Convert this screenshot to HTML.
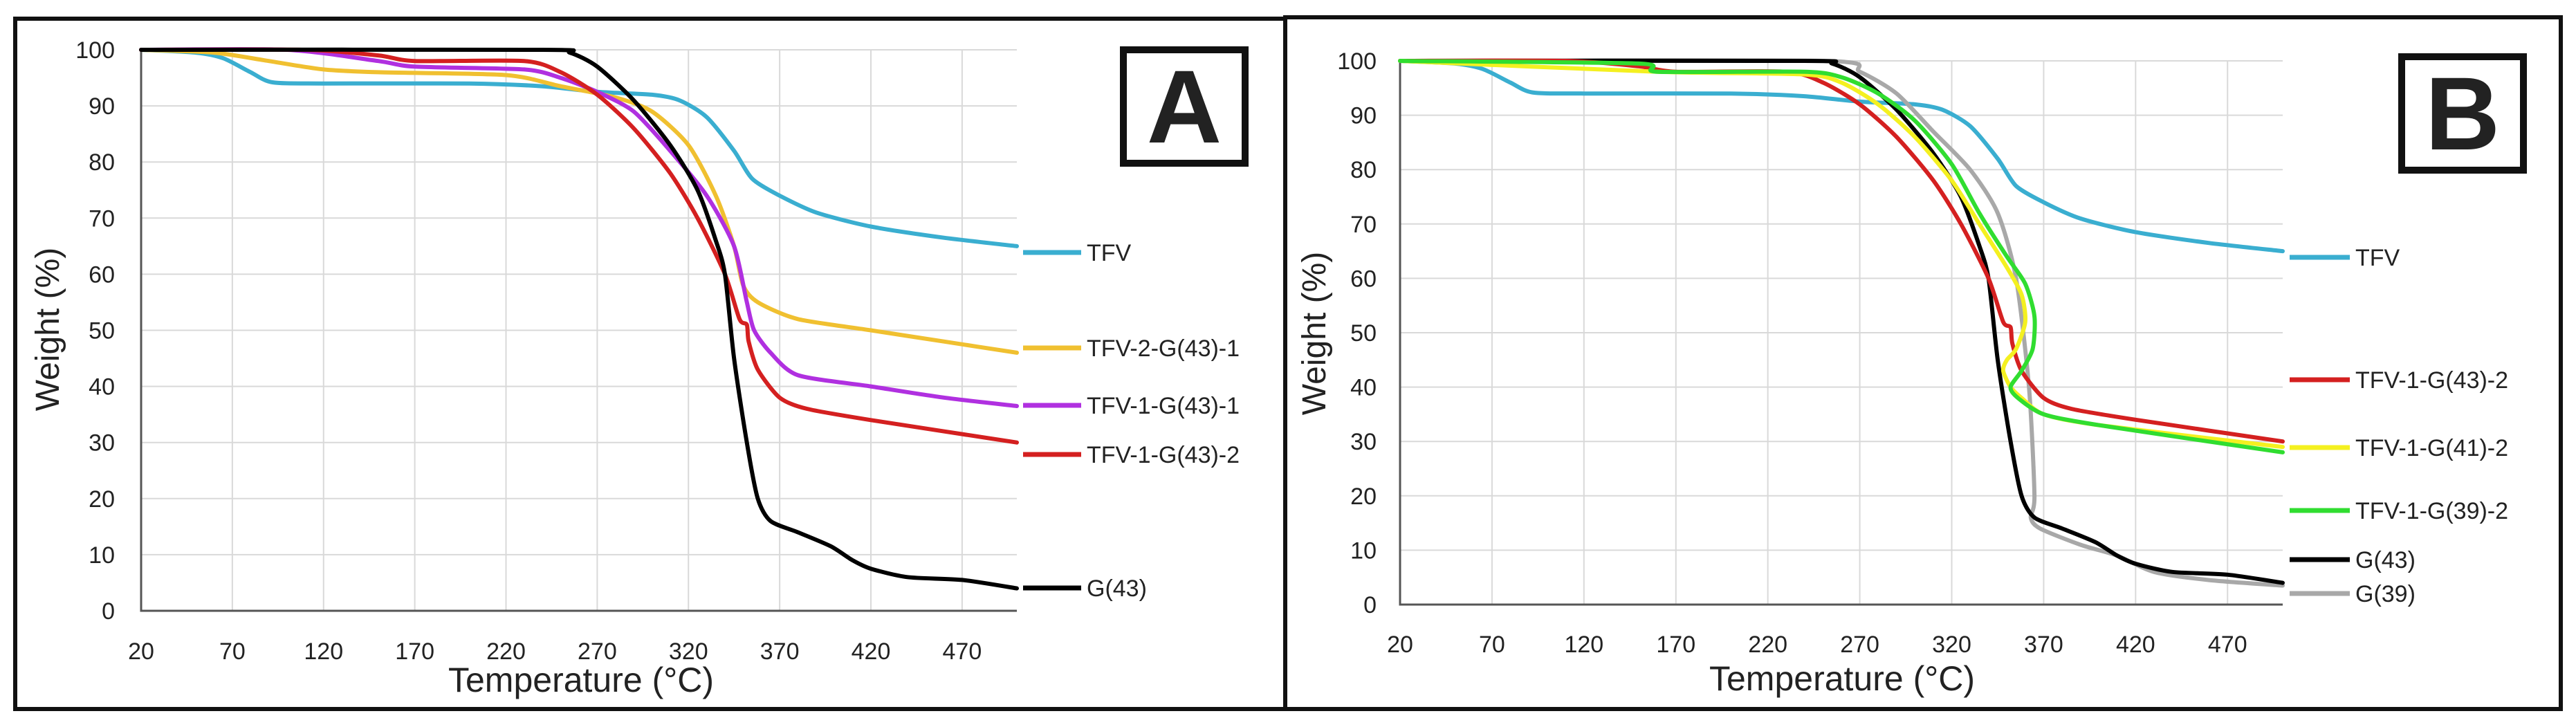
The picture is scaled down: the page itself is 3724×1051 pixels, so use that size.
<!DOCTYPE html>
<html><head><meta charset="utf-8"><style>
html,body{margin:0;padding:0;background:#fff}
svg{display:block}
text{font-family:"Liberation Sans Narrow","Liberation Sans",sans-serif;fill:#222}
</style></head><body>
<svg id="chart" width="3724" height="1051" viewBox="0 0 3724 1051" xmlns="http://www.w3.org/2000/svg">
<rect x="0" y="0" width="3724" height="1051" fill="#fff"/>
<rect x="22" y="27" width="1836" height="998" fill="none" stroke="#111" stroke-width="6"/>
<rect x="1858" y="25" width="1844" height="1000" fill="none" stroke="#111" stroke-width="6"/>
<g id="pa"></g>
<g id="pb"></g>
</svg>
<script>
const xTicks=[20,70,120,170,220,270,320,370,420,470];
const yTicks=[0,10,20,30,40,50,60,70,80,90,100];
const tfvT=[20,50,65,80,92,120,200,240,270,300,315,330,345,355,370,390,420,460,500];
const tfvW=[100,99.5,98.5,96,94.2,94,94,93.5,92.5,92,91,88,82,77,74,71,68.5,66.5,65];
const t2g431T=[20,60,90,120,150,220,250,280,300,320,335,345,350,358,380,420,460,500];
const t2g431W=[100,99.5,98,96.5,96,95.5,93.5,91.5,89,83,74,65,58,55,52,50,48,46];
const t1g431T=[20,100,150,170,230,250,270,290,310,330,345,352,356,365,380,420,460,500];
const t1g431W=[100,100,98,97,96.5,95,92.5,89,82,74,65,55,50,46,42,40,38,36.5];
const t1g432T=[20,110,150,170,230,250,270,290,310,325,340,348,352,353,358,370,385,420,500];
const t1g432W=[100,100,99,98,98,96,92,86,78,70,60,52,51,48,43,38,36,34,30];
const g43T=[20,240,255,270,290,310,325,335,340,345,352,358,365,380,398,410,420,440,470,500];
const g43W=[100,100,99.5,97,91,83,75,66,60,45,30,20,16,14,11.5,9,7.5,6,5.5,4];
const t1g412T=[20,160,240,260,280,300,320,335,350,358,360,355,350,348,352,358,370,400,500];
const t1g412W=[100,98,97.5,96,92,86,78,70,62,57,52,47,45,43,40,38,35,33,29];
const t1g392T=[20,150,160,240,260,280,300,320,335,350,360,365,364,358,352,356,370,400,500];
const t1g392W=[100,99.5,98,98,97,94,89,81,72,64,59,53,47,43,40,38,35,33,28];
const g39T=[20,250,270,290,310,330,345,355,362,365,363,368,390,410,430,460,500];
const g39W=[100,100,98,94,87,80,72,60,40,20,16,14,11,9,6,4.5,3.5];

const NS='http://www.w3.org/2000/svg';
function mk(p,tag,at){const e=document.createElementNS(NS,tag);for(const k in at)e.setAttribute(k,at[k]);p.appendChild(e);return e;}
function smooth(P){
  let d='M'+P[0][0].toFixed(1)+','+P[0][1].toFixed(1);
  for(let i=0;i<P.length-1;i++){
    const p0=P[i-1]||P[i],p1=P[i],p2=P[i+1],p3=P[i+2]||P[i+1];
    const k=1/8;
    const c1=[p1[0]+(p2[0]-p0[0])*k,p1[1]+(p2[1]-p0[1])*k];
    const c2=[p2[0]-(p3[0]-p1[0])*k,p2[1]-(p3[1]-p1[1])*k];
    d+='C'+c1[0].toFixed(1)+','+c1[1].toFixed(1)+' '+c2[0].toFixed(1)+','+c2[1].toFixed(1)+' '+p2[0].toFixed(1)+','+p2[1].toFixed(1);
  }
  return d;
}
function panel(g,cfg,series){
  const xs=v=>cfg.x0+(v-20)/(500-20)*(cfg.x1-cfg.x0);
  const ys=v=>cfg.y0-(v/100)*(cfg.y0-cfg.y1);
  xTicks.forEach(t=>{
    const l=mk(g,'line',{x1:xs(t),x2:xs(t),y1:ys(0),y2:ys(100),stroke:'#d9d9d9','stroke-width':2});
    
    
    const tx=mk(g,'text',{x:xs(t),y:cfg.xly,'text-anchor':'middle','font-size':34});
    tx.textContent=t;
    
    
  });
  yTicks.forEach(t=>{
    const l=mk(g,'line',{x1:xs(20),x2:xs(500),y1:ys(t),y2:ys(t),stroke:'#d9d9d9','stroke-width':2});
    
    
    const tx=mk(g,'text',{x:cfg.ylx,y:ys(t)+12,'text-anchor':'end','font-size':34});
    tx.textContent=t;
    
    
  });
  const ax=mk(g,'path',{d:`M${xs(20)},${ys(100)}V${ys(0)}H${xs(500)}`,fill:'none',stroke:'#555','stroke-width':3});
  
  
  const xt=mk(g,'text',{x:cfg.xtx,y:cfg.xty,'text-anchor':'middle','font-size':50});
  xt.textContent='Temperature (°C)';
  
  
  const yt=mk(g,'text',{x:0,y:0,'text-anchor':'middle','font-size':48,transform:`translate(${cfg.ytx},${cfg.yty}) rotate(-90)`,'font-family':'Liberation Sans'});
  yt.textContent='Weight (%)';
  
  
  series.forEach(s=>{
    const P=s.t.map((t,i)=>[xs(t),ys(s.w[i])]);
    const p=mk(g,'path',{d:smooth(P),fill:'none',stroke:s.c,'stroke-width':6,'stroke-linejoin':'round','stroke-linecap':'round'});
    
    
    const ll=mk(g,'line',{x1:cfg.lx0,x2:cfg.lx1,y1:s.ly,y2:s.ly,stroke:s.c,'stroke-width':7});
    
    
    const lt=mk(g,'text',{x:cfg.lx1+8,y:s.ly+12,'font-size':34});
    lt.textContent=s.n;
    
    
  });
  const b=mk(g,'rect',{x:cfg.bx,y:cfg.by,width:cfg.bw,height:cfg.bh,fill:'#fff',stroke:'#111','stroke-width':10});
  
  
  const bt=mk(g,'text',{x:cfg.bx+cfg.bw/2,y:cfg.by+cfg.bh/2+52,'text-anchor':'middle','font-size':150,'font-weight':'bold','font-family':'Liberation Sans'});
  bt.textContent=cfg.label;
  
  
}
const C={tfv:'#3aaed0',org:'#f0c030',pur:'#b030e0',red:'#d42020',blk:'#000',yel:'#f4f020',grn:'#30dd30',gry:'#a8a8a8'};
panel(document.getElementById('pa'),{x0:204,x1:1470,y0:883,y1:72,xly:953,ylx:166,xtx:840,xty:1000,ytx:85,yty:476,lx0:1479,lx1:1563,bx:1624,by:72,bw:176,bh:164,label:'A'},[
 {id:'tfv',n:'TFV',t:tfvT,w:tfvW,c:C.tfv,ly:365},
 {id:'tfv-2-g43-1',n:'TFV-2-G(43)-1',t:t2g431T,w:t2g431W,c:C.org,ly:503},
 {id:'tfv-1-g43-1',n:'TFV-1-G(43)-1',t:t1g431T,w:t1g431W,c:C.pur,ly:586},
 {id:'tfv-1-g43-2',n:'TFV-1-G(43)-2',t:t1g432T,w:t1g432W,c:C.red,ly:657},
 {id:'g43',n:'G(43)',t:g43T,w:g43W,c:C.blk,ly:850}
]);
panel(document.getElementById('pb'),{x0:2024,x1:3300,y0:874,y1:88,xly:943,ylx:1990,xtx:2663,xty:998,ytx:1916,yty:482,lx0:3310,lx1:3397,bx:3472,by:82,bw:176,bh:164,label:'B'},[
 {id:'tfv',n:'TFV',t:tfvT,w:tfvW,c:C.tfv,ly:372},
 {id:'g39',n:'G(39)',t:g39T,w:g39W,c:C.gry,ly:858},
 {id:'g43',n:'G(43)',t:g43T,w:g43W,c:C.blk,ly:809},
 {id:'tfv-1-g43-2',n:'TFV-1-G(43)-2',t:t1g432T,w:t1g432W,c:C.red,ly:549},
 {id:'tfv-1-g41-2',n:'TFV-1-G(41)-2',t:t1g412T,w:t1g412W,c:C.yel,ly:647},
 {id:'tfv-1-g39-2',n:'TFV-1-G(39)-2',t:t1g392T,w:t1g392W,c:C.grn,ly:738}
]);
</script>
</body></html>
